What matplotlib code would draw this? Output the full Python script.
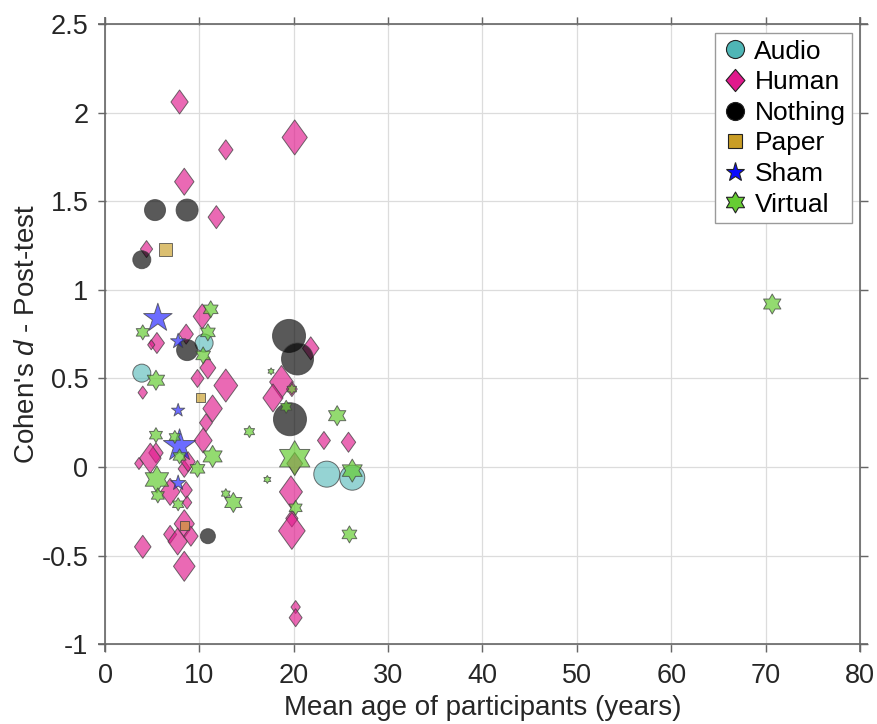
import numpy as np
import matplotlib
matplotlib.use("Agg")
import matplotlib.pyplot as plt
from matplotlib.lines import Line2D
from matplotlib.path import Path

plt.rcParams['font.family'] = ['Liberation Sans', 'DejaVu Sans']
plt.rcParams['mathtext.fontset'] = 'custom'
plt.rcParams['mathtext.it'] = 'Liberation Sans:italic'
plt.rcParams['mathtext.rm'] = 'Liberation Sans'

# ---------------- data ----------------
categories = ["Audio", "Human", "Nothing", "Paper", "Sham", "Virtual"]

audio_age = [10.5, 3.9, 23.5, 26.2]
audio_d = [0.70, 0.53, -0.04, -0.06]
audio_n = [18, 18, 26, 25]

human_age = [7.9, 12.8, 8.4, 11.8, 4.4, 20.1, 10.3, 5.5, 4.9, 8.6, 10.9, 9.8, 4.0,
             12.8, 11.4, 10.7, 10.4, 5.4, 4.8, 3.6, 8.4, 8.8, 6.9, 8.6, 8.7, 8.4,
             6.9, 7.7, 9.1, 4.0, 8.4, 21.8, 18.7, 17.8, 19.8, 23.2, 25.8, 20.1,
             19.7, 19.8, 19.8, 20.2, 20.2]
human_d = [2.06, 1.79, 1.61, 1.41, 1.23, 1.86, 0.85, 0.70, 0.69, 0.75, 0.56, 0.50, 0.42,
           0.46, 0.33, 0.25, 0.15, 0.08, 0.05, 0.02, -0.01, 0.03, -0.14, -0.13, -0.20, -0.32,
           -0.38, -0.42, -0.39, -0.45, -0.56, 0.67, 0.48, 0.39, 0.44, 0.15, 0.14, 0.02,
           -0.14, -0.29, -0.36, -0.79, -0.85]
human_n = [24, 20, 27, 23, 17, 35, 25, 21, 10, 20, 22, 18, 13,
           33, 27, 18, 25, 20, 30, 12, 17, 20, 27, 17, 13, 28,
           18, 27, 20, 23, 30, 23, 33, 28, 15, 18, 20, 22,
           32, 17, 37, 13, 18]

nothing_age = [5.3, 8.7, 3.9, 8.7, 10.9, 19.5, 20.4, 19.6]
nothing_d = [1.45, 1.45, 1.17, 0.66, -0.39, 0.74, 0.61, 0.27]
nothing_n = [21, 22, 18, 21, 15, 33, 32, 33]

paper_age = [6.4, 10.1, 8.4]
paper_d = [1.23, 0.39, -0.33]
paper_n = [13, 9, 9]

sham_age = [5.6, 7.75, 7.75, 7.9, 7.75]
sham_d = [0.84, 0.71, 0.32, 0.12, -0.09]
sham_n = [30, 16, 14, 34, 16]

virtual_age = [11.2, 4.0, 10.9, 10.4, 5.4, 11.4, 5.4, 7.4, 7.9, 9.8, 5.5, 5.6, 7.75,
               12.8, 13.6, 15.3, 17.6, 19.8, 19.2, 24.6, 20.1, 26.2, 17.2, 20.2, 25.9, 70.7]
virtual_d = [0.89, 0.76, 0.76, 0.63, 0.49, 0.06, 0.18, 0.17, 0.06, -0.01, -0.07, -0.16, -0.21,
             -0.15, -0.20, 0.20, 0.54, 0.44, 0.34, 0.29, 0.05, -0.02, -0.07, -0.23, -0.38, 0.92]
virtual_n = [17, 15, 17, 17, 20, 22, 15, 13, 15, 17, 27, 15, 13,
             10, 20, 12, 7, 11, 13, 20, 35, 23, 8, 15, 17, 20]

xticks = [0, 10, 20, 30, 40, 50, 60, 70, 80]
yticks = [-1, -0.5, 0, 0.5, 1, 1.5, 2, 2.5]
ytick_labels = ["-1", "-0.5", "0", "0.5", "1", "1.5", "2", "2.5"]

# ---------------- markers ----------------
diamond = Path([(0, 1), (0.72, 0), (0, -1), (-0.72, 0), (0, 1)],
               [Path.MOVETO, Path.LINETO, Path.LINETO, Path.LINETO, Path.CLOSEPOLY])
diamond_leg = Path([(0, 1), (0.85, 0), (0, -1), (-0.85, 0), (0, 1)],
                   [Path.MOVETO, Path.LINETO, Path.LINETO, Path.LINETO, Path.CLOSEPOLY])
hv = []
for k in range(12):
    ang = np.pi / 2 + k * np.pi / 6
    r = 1.0 if k % 2 == 0 else 1 / np.sqrt(3)
    hv.append((r * np.cos(ang), r * np.sin(ang)))
hv.append(hv[0])
hexagram = Path(hv, [Path.MOVETO] + [Path.LINETO] * 11 + [Path.CLOSEPOLY])

colors = {"Audio": "#4fb6b6", "Human": "#e0198c", "Nothing": "#000000",
          "Paper": "#c99d25", "Sham": "#0a0aff", "Virtual": "#66cc33"}
markers = {"Audio": "o", "Human": diamond, "Nothing": "o",
           "Paper": "s", "Sham": "*", "Virtual": hexagram}
alphas = {"Audio": 0.6, "Human": 0.65, "Nothing": 0.65,
          "Paper": 0.65, "Sham": 0.6, "Virtual": 0.7}

groups = {
    "Audio": (audio_age, audio_d, audio_n),
    "Human": (human_age, human_d, human_n),
    "Nothing": (nothing_age, nothing_d, nothing_n),
    "Paper": (paper_age, paper_d, paper_n),
    "Sham": (sham_age, sham_d, sham_n),
    "Virtual": (virtual_age, virtual_d, virtual_n),
}

DPI = 100
fig = plt.figure(figsize=(877 / DPI, 724 / DPI), dpi=DPI)
ax = fig.add_axes([98 / 877, 72 / 724, 770 / 877, 635 / 724])

px2pt = 72.0 / DPI
for cat in categories:
    xs, ys, ns = groups[cat]
    s = (np.array(ns, dtype=float) * px2pt) ** 2
    rgba = matplotlib.colors.to_rgba(colors[cat], alphas[cat])
    ax.scatter(xs, ys, s=s, marker=markers[cat], facecolor=rgba,
               edgecolor=(0.25, 0.25, 0.25, 0.75), linewidth=0.7, zorder=3)

ax.set_xlim(-0.742, 80.848)
ax.set_ylim(-1.0435, 2.5395)
for sp in ax.spines.values():
    sp.set_visible(False)

ax.set_xticks(xticks)
ax.set_yticks(yticks)
ax.set_yticklabels(ytick_labels)
ax.grid(True, color="#dcdcdc", linewidth=0.9, zorder=0)
ax.set_axisbelow(True)
for v in (xticks[0], xticks[-1]):
    ax.axvline(v, color="#666666", linewidth=1.2, zorder=1)
for v in (yticks[0], yticks[-1]):
    ax.axhline(v, color="#666666", linewidth=1.2, zorder=1)

ax.tick_params(axis="x", pad=8)
ax.tick_params(axis="y", pad=7)
ax.tick_params(axis="both", direction="in", length=5.8, width=1.0, color="#666666",
               top=True, right=True, labelsize=19.5, labelcolor="#262626")

ax.set_xlabel("Mean age of participants (years)", fontsize=20, color="#262626", labelpad=4)
ax.set_ylabel("Cohen's $\\it{d}$ - Post-test", fontsize=20, color="#262626", labelpad=1)

handles = []
for cat in categories:
    m = diamond_leg if cat == "Human" else markers[cat]
    msz = {"Audio": 13, "Human": 16, "Nothing": 13, "Paper": 10.5,
           "Sham": 14, "Virtual": 15}[cat]
    handles.append(Line2D([], [], linestyle="none", marker=m, markersize=msz,
                          markerfacecolor=colors[cat], markeredgecolor="#222222",
                          markeredgewidth=0.8, label=cat))
leg = ax.legend(handles=handles, loc="upper right", fontsize=19, frameon=True,
                fancybox=False, edgecolor="#9a9a9a", framealpha=1.0,
                handletextpad=0.25, labelspacing=0.25, borderpad=0.25,
                handlelength=1.0, borderaxespad=0,
                bbox_to_anchor=((852 - 98) / 770, (652 - 33) / 635))
leg.get_frame().set_linewidth(1.0)

fig.savefig("out.png", dpi=DPI)
